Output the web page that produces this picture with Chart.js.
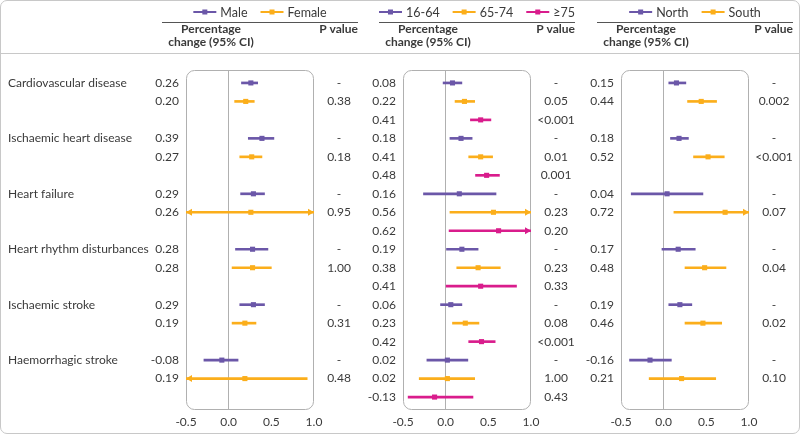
<!DOCTYPE html>
<html>
<head>
<meta charset="utf-8">
<script src="https://cdn.jsdelivr.net/npm/chart.js@4.4.1/dist/chart.umd.min.js"></script>
<style>
  html, body { margin: 0; padding: 0; background: #fff; }
  #wrap { position: relative; width: 800px; height: 434px; overflow: hidden; }
  #frame { position: absolute; left: 0; top: 0; width: 798px; height: 432px; border: 1px solid #c8c8c8; border-radius: 7px; }
  #sep { position: absolute; left: 0; top: 53px; width: 800px; height: 1px; background: #c8c8c8; }
  canvas { position: absolute; left: 0; top: 0; }
</style>
</head>
<body>
<div id="wrap">
  <div id="frame"></div>
  <div id="sep"></div>
  <canvas id="sexChart" width="800" height="434"></canvas>
  <canvas id="ageChart" width="800" height="434"></canvas>
  <canvas id="regionChart" width="800" height="434"></canvas>
</div>
<script>
// Outcomes (one group of rows each)
const outcomes = ['Cardiovascular disease', 'Ischaemic heart disease', 'Heart failure',
    'Heart rhythm disturbances', 'Ischaemic stroke', 'Haemorrhagic stroke'];
const xTicks = [-0.5, 0.0, 0.5, 1.0];

// Sex
const maleEst = [0.26, 0.39, 0.29, 0.28, 0.29, -0.08];
const maleLow = [0.15, 0.23, 0.14, 0.08, 0.13, -0.29];
const maleHigh = [0.34, 0.53, 0.42, 0.46, 0.42, 0.11];
const femaleEst = [0.20, 0.27, 0.26, 0.28, 0.19, 0.19];
const femaleLow = [0.07, 0.13, -0.62, 0.04, 0.04, -0.54];
const femaleHigh = [0.30, 0.39, 1.14, 0.50, 0.32, 0.92];
const sexP = ['0.38', '0.18', '0.95', '1.00', '0.31', '0.48'];

// Age
const age1664Est = [0.08, 0.18, 0.16, 0.19, 0.06, 0.02];
const age1664Low = [-0.03, 0.05, -0.26, 0.01, -0.06, -0.22];
const age1664High = [0.19, 0.31, 0.59, 0.38, 0.19, 0.26];
const age6574Est = [0.22, 0.41, 0.56, 0.38, 0.23, 0.02];
const age6574Low = [0.11, 0.27, 0.05, 0.13, 0.08, -0.31];
const age6574High = [0.34, 0.55, 1.07, 0.64, 0.39, 0.34];
const age75Est = [0.41, 0.48, 0.62, 0.41, 0.42, -0.13];
const age75Low = [0.29, 0.35, 0.04, 0.00, 0.27, -0.44];
const age75High = [0.53, 0.63, 1.20, 0.83, 0.58, 0.32];
const age6574P = ['0.05', '0.01', '0.23', '0.23', '0.08', '1.00'];
const age75P = ['<0.001', '0.001', '0.20', '0.33', '<0.001', '0.43'];

// Region
const northEst = [0.15, 0.18, 0.04, 0.17, 0.19, -0.16];
const northLow = [0.06, 0.08, -0.38, -0.02, 0.06, -0.40];
const northHigh = [0.26, 0.29, 0.46, 0.37, 0.33, 0.09];
const southEst = [0.44, 0.52, 0.72, 0.48, 0.46, 0.21];
const southLow = [0.28, 0.35, 0.12, 0.25, 0.25, -0.17];
const southHigh = [0.62, 0.71, 1.32, 0.73, 0.68, 0.61];
const southP = ['0.002', '<0.001', '0.07', '0.04', '0.02', '0.10'];

const PURPLE = '#6b57a8';
const ORANGE = '#fbae1b';
const MAGENTA = '#d91c8c';
const TEXT = '#3a3a3a';
const GREY = '#b0b0b0';
const FONT = 'Lato, "Noto Sans", sans-serif';
const ROWS_PER_GROUP = 3;
const noP = outcomes.map(() => '-');

const panels = [
    {
        id: 'sexChart', left: 186, right: 314, rowLabels: true,
        series: [
            { name: 'Male', color: PURPLE, est: maleEst, low: maleLow, high: maleHigh, p: noP },
            { name: 'Female', color: ORANGE, est: femaleEst, low: femaleLow, high: femaleHigh, p: sexP }
        ]
    },
    {
        id: 'ageChart', left: 403, right: 531, rowLabels: false,
        series: [
            { name: '16-64', color: PURPLE, est: age1664Est, low: age1664Low, high: age1664High, p: noP },
            { name: '65-74', color: ORANGE, est: age6574Est, low: age6574Low, high: age6574High, p: age6574P },
            { name: '≥75', color: MAGENTA, est: age75Est, low: age75Low, high: age75High, p: age75P }
        ]
    },
    {
        id: 'regionChart', left: 621, right: 749, rowLabels: false,
        series: [
            { name: 'North', color: PURPLE, est: northEst, low: northLow, high: northHigh, p: noP },
            { name: 'South', color: ORANGE, est: southEst, low: southLow, high: southHigh, p: southP }
        ]
    }
];

function rowOf(g, s) {
    return g * ROWS_PER_GROUP + s;
}

// Box, arrows and all the text columns around a panel
function forestPlugin(panel) {
    return {
        id: 'forest_' + panel.id,
        beforeDatasetsDraw(chart) {
            const a = chart.chartArea;
            const ctx = chart.ctx;
            ctx.save();
            ctx.strokeStyle = GREY;
            ctx.lineWidth = 1;
            ctx.beginPath();
            ctx.roundRect(a.left + 0.5, a.top + 0.5, a.right - a.left - 1, a.bottom - a.top - 1, 8);
            ctx.stroke();
            ctx.restore();
        },
        afterDatasetsDraw(chart) {
            const ctx = chart.ctx;
            const xs = chart.scales.x;
            const ys = chart.scales.y;
            ctx.save();
            panel.series.forEach((s, si) => {
                ctx.fillStyle = s.color;
                s.est.forEach((v, g) => {
                    const y = ys.getPixelForValue(rowOf(g, si));
                    if (s.high[g] > xs.max) {
                        const x = xs.getPixelForValue(xs.max);
                        ctx.beginPath();
                        ctx.moveTo(x, y);
                        ctx.lineTo(x - 6, y - 3.5);
                        ctx.lineTo(x - 6, y + 3.5);
                        ctx.closePath();
                        ctx.fill();
                    }
                    if (s.low[g] < xs.min) {
                        const x = xs.getPixelForValue(xs.min);
                        ctx.beginPath();
                        ctx.moveTo(x, y);
                        ctx.lineTo(x + 6, y - 3.5);
                        ctx.lineTo(x + 6, y + 3.5);
                        ctx.closePath();
                        ctx.fill();
                    }
                });
            });
            ctx.restore();
        },
        afterDraw(chart) {
            const ctx = chart.ctx;
            const a = chart.chartArea;
            const ys = chart.scales.y;
            const ulLeft = a.left - 24;
            const ulRight = a.right + 44;
            ctx.save();
            ctx.fillStyle = TEXT;
            ctx.textBaseline = 'middle';

            // header
            ctx.strokeStyle = '#555';
            ctx.lineWidth = 1;
            ctx.beginPath();
            ctx.moveTo(ulLeft, 22.5);
            ctx.lineTo(ulRight, 22.5);
            ctx.stroke();
            ctx.font = 'bold 12px ' + FONT;
            ctx.textAlign = 'center';
            ctx.fillText('Percentage', ulLeft + 49, 29.5);
            ctx.fillText('change (95% CI)', ulLeft + 49, 42.5);
            ctx.textAlign = 'right';
            ctx.fillText('P value', ulRight, 29.5);

            // legend
            ctx.font = '12.5px ' + FONT;
            const lineLen = 23, gap = 4, spacing = 13;
            let total = 0;
            panel.series.forEach((s, i) => {
                total += lineLen + gap + ctx.measureText(s.name).width + (i ? spacing : 0);
            });
            let lx = (ulLeft + ulRight) / 2 - total / 2;
            const ly = 12;
            ctx.textAlign = 'left';
            panel.series.forEach((s) => {
                ctx.strokeStyle = s.color;
                ctx.lineWidth = 2;
                ctx.beginPath();
                ctx.moveTo(lx, ly);
                ctx.lineTo(lx + lineLen, ly);
                ctx.stroke();
                ctx.fillStyle = s.color;
                ctx.fillRect(lx + lineLen / 2 - 2.5, ly - 2.5, 5, 5);
                ctx.fillStyle = TEXT;
                ctx.fillText(s.name, lx + lineLen + gap, ly + 0.5);
                lx += lineLen + gap + ctx.measureText(s.name).width + spacing;
            });

            // rows
            ctx.font = '12px ' + FONT;
            ctx.fillStyle = TEXT;
            if (panel.rowLabels) {
                ctx.textAlign = 'left';
                outcomes.forEach((name, g) => {
                    ctx.fillText(name, 8, ys.getPixelForValue(rowOf(g, 0)));
                });
            }
            panel.series.forEach((s, si) => {
                s.est.forEach((v, g) => {
                    const y = ys.getPixelForValue(rowOf(g, si));
                    ctx.textAlign = 'right';
                    ctx.fillText(v.toFixed(2), a.left - 7, y);
                    ctx.textAlign = 'center';
                    ctx.fillText(s.p[g], a.right + 25, y);
                });
            });
            ctx.restore();
        }
    };
}

function initPanel(panel) {
    const datasets = [];
    panel.series.forEach((s, si) => {
        datasets.push({
            type: 'scatter',
            label: s.name,
            data: s.est.map((v, g) => ({ x: v, y: rowOf(g, si) })),
            backgroundColor: s.color,
            borderColor: s.color,
            pointStyle: 'rect',
            pointRadius: 3.6,
            borderWidth: 0,
            order: 0
        });
        datasets.push({
            type: 'bar',
            label: s.name + ' CI',
            indexAxis: 'y',
            grouped: false,
            data: s.est.map((v, g) => ({ x: [s.low[g], s.high[g]], y: rowOf(g, si) })),
            backgroundColor: s.color,
            borderWidth: 0,
            barThickness: 2,
            order: 1
        });
    });

    new Chart(document.getElementById(panel.id), {
        type: 'bar',
        data: { datasets: datasets },
        options: {
            responsive: false,
            animation: false,
            layout: {
                padding: { left: panel.left, right: 800 - panel.right, top: 70, bottom: 0 }
            },
            plugins: {
                legend: { display: false },
                tooltip: { enabled: false }
            },
            scales: {
                x: {
                    type: 'linear',
                    offset: false,
                    min: xTicks[0],
                    max: xTicks[xTicks.length - 1],
                    afterFit: (scale) => { scale.height = 24; },
                    afterBuildTicks: (scale) => { scale.ticks = xTicks.map(v => ({ value: v })); },
                    border: { display: false },
                    grid: {
                        offset: false,
                        drawTicks: false,
                        color: (c) => (c.tick && c.tick.value === 0 ? GREY : 'transparent')
                    },
                    ticks: {
                        padding: 5,
                        color: TEXT,
                        font: { family: FONT, size: 12 },
                        callback: (v) => Number(v).toFixed(1)
                    }
                },
                y: {
                    type: 'linear',
                    offset: false,
                    display: false,
                    reverse: true,
                    min: -0.7,
                    max: outcomes.length * ROWS_PER_GROUP - 0.3
                }
            }
        },
        plugins: [forestPlugin(panel)]
    });
}

document.addEventListener('DOMContentLoaded', function() {
    panels.forEach(initPanel);
});
</script>
</body>
</html>
